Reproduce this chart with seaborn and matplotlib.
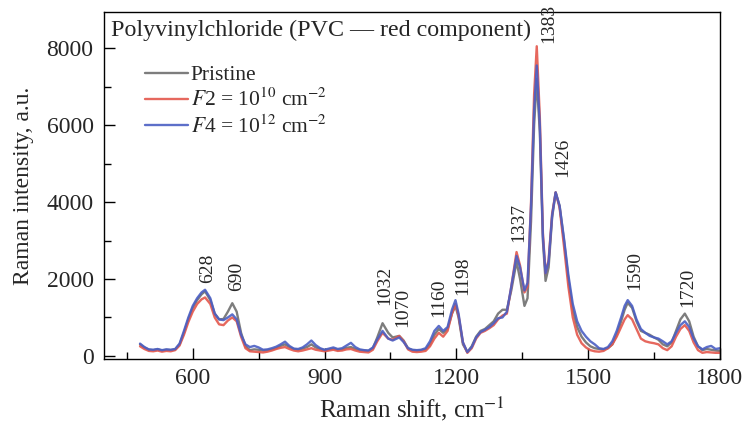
import numpy as np
import pandas as pd
import matplotlib
matplotlib.use("Agg")
import matplotlib.pyplot as plt
from matplotlib.ticker import MultipleLocator
import seaborn as sns

# Raman shift positions, cm^-1
shift = [480, 490, 500, 510, 520, 530, 540, 550, 560, 570, 580, 590, 600, 610, 620, 628,
         640, 650, 660, 670, 680, 690, 700, 710, 720, 730, 740, 750, 760, 770, 780, 790,
         800, 810, 820, 830, 840, 850, 860, 870, 880, 890, 900, 910, 920, 930, 940, 950,
         960, 970, 980, 990, 1000, 1010, 1020, 1032, 1045, 1055, 1070, 1080, 1090, 1100,
         1110, 1120, 1130, 1140, 1150, 1160, 1170, 1180, 1190, 1198, 1205, 1215, 1225,
         1235, 1245, 1255, 1265, 1275, 1285, 1295, 1305, 1315, 1325, 1337, 1345, 1355,
         1362, 1370, 1377, 1383, 1390, 1397, 1403, 1410, 1418, 1426, 1435, 1445, 1455,
         1465, 1475, 1485, 1495, 1505, 1515, 1525, 1535, 1545, 1555, 1565, 1575, 1583,
         1590, 1600, 1610, 1620, 1630, 1640, 1650, 1660, 1670, 1680, 1690, 1700, 1710,
         1720, 1730, 1740, 1750, 1760, 1770, 1780, 1790, 1800]

pristine = [300, 220, 160, 150, 170, 140, 160, 150, 170, 300, 600, 950, 1250, 1450, 1600, 1680,
            1450, 1100, 950, 960, 1150, 1370, 1150, 600, 250, 150, 170, 160, 140, 150, 170, 200,
            260, 300, 230, 180, 160, 190, 230, 300, 220, 180, 150, 170, 190, 160, 170, 210,
            230, 180, 150, 140, 130, 200, 480, 850, 600, 480, 520, 400, 200, 150,
            140, 150, 170, 300, 550, 700, 600, 700, 1100, 1300, 1000, 300, 100,
            250, 500, 650, 700, 800, 900, 1100, 1200, 1200, 1700, 2450, 2000, 1300,
            1500, 3500, 6000, 7200, 5800, 3000, 1950, 2300, 3600, 4250, 3900, 3000, 2000,
            1200, 750, 500, 350, 250, 200, 180, 170, 200, 300, 550, 900, 1200,
            1380, 1250, 900, 650, 600, 550, 480, 420, 300, 250, 350, 650, 950,
            1100, 900, 500, 250, 150, 180, 160, 140, 130]

f2 = [250, 180, 130, 120, 140, 110, 130, 120, 150, 270, 550, 880, 1150, 1350, 1470, 1520,
      1350, 1000, 820, 800, 920, 1000, 900, 500, 200, 120, 110, 100, 90, 110, 140, 180,
      210, 230, 180, 140, 120, 140, 170, 200, 160, 140, 120, 140, 160, 130, 140, 170,
      180, 140, 110, 100, 90, 160, 380, 600, 450, 420, 520, 380, 170, 110,
      100, 110, 130, 250, 450, 600, 500, 650, 1100, 1350, 1050, 350, 80,
      200, 450, 600, 650, 720, 800, 950, 1050, 1100, 1800, 2700, 2350, 1650,
      1800, 4000, 6800, 8050, 6200, 3200, 2150, 2500, 3700, 4250, 3850, 2850, 1800,
      1000, 550, 330, 220, 150, 120, 110, 130, 200, 300, 500, 750, 950,
      1060, 950, 700, 450, 380, 350, 330, 300, 200, 150, 250, 500, 700,
      800, 650, 350, 150, 80, 100, 90, 80, 80]

f4 = [320, 230, 170, 160, 180, 150, 170, 160, 180, 320, 650, 1000, 1300, 1500, 1650, 1720,
      1500, 1100, 950, 930, 1000, 1080, 950, 550, 300, 230, 260, 220, 160, 170, 200, 240,
      300, 370, 260, 190, 180, 220, 300, 400, 280, 200, 160, 190, 220, 180, 200, 270,
      340, 230, 170, 150, 140, 220, 430, 650, 450, 400, 480, 360, 200, 160,
      150, 160, 200, 380, 650, 780, 650, 750, 1200, 1450, 1100, 350, 100,
      230, 480, 620, 680, 750, 850, 980, 1000, 1150, 1800, 2600, 2300, 1700,
      1900, 3900, 6400, 7550, 6000, 3100, 2150, 2450, 3650, 4250, 3900, 3050, 2100,
      1350, 900, 650, 500, 380, 300, 200, 180, 230, 380, 650, 1000, 1300,
      1450, 1300, 950, 700, 600, 520, 480, 450, 380, 300, 380, 600, 800,
      900, 750, 450, 250, 170, 230, 260, 180, 200]

series_names = ["Pristine", "$F$2 = 10$^{10}$ cm$^{-2}$", "$F$4 = 10$^{12}$ cm$^{-2}$"]
peak_labels = ["628", "690", "1032", "1070", "1160", "1198", "1337", "1383", "1426", "1590", "1720"]
# where each rotated peak label sits (text centre x, text bottom y)
label_pos = [(635, 1900), (701, 1680), (1036, 1320), (1077, 760), (1161, 1010), (1215, 1580),
             (1343, 2960), (1410, 8130), (1443, 4650), (1605, 1710), (1727, 1270)]

df = pd.DataFrame({
    "shift": shift * 3,
    "intensity": pristine + f2 + f4,
    "sample": [series_names[0]] * len(shift) + [series_names[1]] * len(shift) + [series_names[2]] * len(shift),
})

sns.set_theme(style="ticks")
plt.rcParams["font.family"] = ["Liberation Serif", "DejaVu Serif"]
plt.rcParams["mathtext.fontset"] = "stix"

fig = plt.figure(figsize=(7.46, 4.26), dpi=100)
ax = fig.add_axes([0.1394, 0.1573, 0.8257, 0.8145])

palette = {series_names[0]: "#6f6f6f", series_names[1]: "#e4574c", series_names[2]: "#4b5fc4"}
sns.lineplot(data=df, x="shift", y="intensity", hue="sample", palette=palette,
             linewidth=1.7, alpha=0.9, ax=ax, legend=True)

ax.set_xlim(398, 1800)
ax.set_ylim(-80, 8940)
ax.xaxis.set_major_locator(MultipleLocator(300))
ax.xaxis.set_minor_locator(MultipleLocator(150))
ax.yaxis.set_major_locator(MultipleLocator(2000))
ax.yaxis.set_minor_locator(MultipleLocator(1000))
ax.tick_params(which="both", direction="in", top=False, right=False, labelsize=17, color="black")
ax.tick_params(which="major", length=8, width=1)
ax.tick_params(which="minor", length=5, width=1)
ax.tick_params(axis="y", pad=7.5)
ax.tick_params(axis="x", pad=6.5)
for sp in ax.spines.values():
    sp.set_color("black")
    sp.set_linewidth(1)

ax.set_xlabel("Raman shift, cm$^{-1}$", fontsize=18, labelpad=4)
ax.set_ylabel("Raman intensity, a.u.", fontsize=17, labelpad=9)

ax.text(0.012, 0.978, "Polyvinylchloride (PVC \u2014 red component)", transform=ax.transAxes,
        ha="left", va="top", fontsize=17.3)

for lab, (px, py) in zip(peak_labels, label_pos):
    ax.text(px, py, lab, rotation=90, ha="center", va="bottom", fontsize=14)

leg = ax.legend(loc="upper left", bbox_to_anchor=(0.052, 0.872), frameon=False, fontsize=15.5,
                handlelength=2.0, handletextpad=0.15, labelspacing=0.18, borderaxespad=0)
for line in leg.get_lines():
    line.set_linewidth(1.7)

fig.savefig("out.png", dpi=100)
